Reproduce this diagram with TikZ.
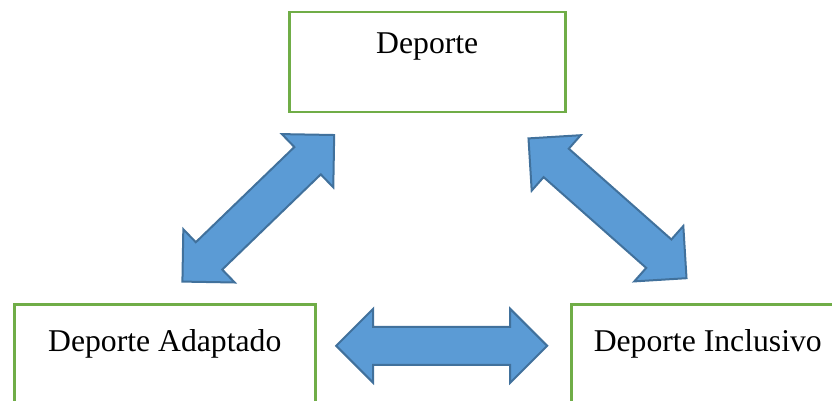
\documentclass[tikz,border=0pt]{standalone}
\usepackage{fontspec}
\setmainfont{Liberation Serif}
\usetikzlibrary{shapes.arrows}
\definecolor{boxgreen}{HTML}{70AD47}
\definecolor{arrowfill}{HTML}{5B9BD5}
\definecolor{arrowline}{HTML}{41719C}
\tikzset{
  box/.style={draw=boxgreen, line width=2.5pt, rectangle, inner xsep=0pt, inner ysep=0pt,
    font=\fontsize{31.7}{38}\selectfont, anchor=north west},
  dblarrow/.style={double arrow, draw=arrowline, fill=arrowfill, line width=2pt,
    double arrow head extend=18pt, double arrow tip angle=90, inner xsep=0pt, inner ysep=18pt,
    minimum width=72pt, minimum height=211pt, text height=0pt, text depth=0pt}
}
\begin{document}
\begin{tikzpicture}[x=1pt,y=-1pt]
\path[use as bounding box, clip] (0,0) rectangle (832,401);
\node[box, minimum width=276pt, text height=41pt, text depth=59pt] (dep) at (288,11) {Deporte};
\node[box, minimum width=301pt, text height=47pt, text depth=80pt] (ada) at (13,303) {Deporte Adaptado};
\node[box, minimum width=273pt, text height=47pt, text depth=80pt] (inc) at (570,303) {Deporte Inclusivo};
\node[dblarrow, rotate=44] (a1) at (258.3,208.3) {};
\node[dblarrow, rotate=-41.5] (a2) at (607.5,208.3) {};
\node[dblarrow] (a3) at (441.7,345.8) {};
\end{tikzpicture}
\end{document}
